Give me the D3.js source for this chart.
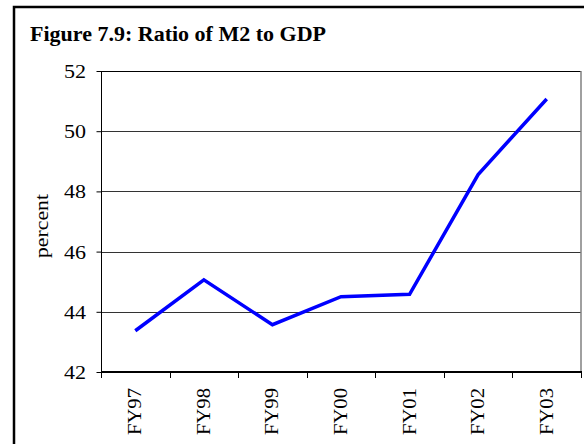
<!DOCTYPE html>
<html>
<head>
<meta charset="utf-8">
<script src="https://cdn.jsdelivr.net/npm/d3@7/dist/d3.min.js"></script>
<style>
  body { margin: 0; background: #fff; }
  text { font-family: "Liberation Serif", "Times New Roman", serif; fill: #000; }
</style>
</head>
<body>
<script>
// data
var years = ['FY97', 'FY98', 'FY99', 'FY00', 'FY01', 'FY02', 'FY03'];
var ratio = [43.37, 45.06, 43.57, 44.5, 44.58, 48.56, 51.07];
var yTicks = [42, 44, 46, 48, 50, 52];

var W = 584, H = 444;
// plot box (note: "top" is reserved on window, so use px* names)
var pxLeft = 101, pxRight = 581, pxTop = 71, pxBottom = 372;

var svg = d3.select('body').append('svg')
    .attr('width', W)
    .attr('height', H);

// outer frame (runs off the right and bottom edges)
svg.append('rect')
    .attr('x', 14).attr('y', 7)
    .attr('width', 620).attr('height', 520)
    .attr('fill', 'none')
    .attr('stroke', '#000')
    .attr('stroke-width', 2.5);

svg.append('text')
    .attr('x', 30).attr('y', 40.5)
    .attr('font-size', 20)
    .attr('font-weight', 'bold')
    .attr('textLength', 296)
    .attr('lengthAdjust', 'spacingAndGlyphs')
    .text('Figure 7.9: Ratio of M2 to GDP');

var x = d3.scaleBand().domain(years).range([pxLeft, pxRight]);
var y = d3.scaleLinear().domain([42, 52]).range([pxBottom, pxTop]);

// gridlines
svg.append('g').selectAll('line')
    .data(yTicks.filter(function(d) { return d > 42; }))
  .enter().append('line')
    .attr('x1', pxLeft).attr('x2', pxRight)
    .attr('y1', function(d) { return Math.round(y(d)) + 0.5; })
    .attr('y2', function(d) { return Math.round(y(d)) + 0.5; })
    .attr('stroke', function(d) { return d == 52 ? '#000' : '#333'; })
    .attr('stroke-width', 1);

// right edge of plot area
svg.append('line')
    .attr('x1', pxRight).attr('x2', pxRight)
    .attr('y1', pxTop).attr('y2', pxBottom)
    .attr('stroke', '#808080')
    .attr('stroke-width', 1.5);

// y axis
var yAxis = svg.append('g')
    .attr('transform', 'translate(' + (pxLeft + 0.5) + ',0)')
    .call(d3.axisLeft(y).tickValues(yTicks).tickSize(5).tickPadding(10).tickFormat(d3.format('d')));
yAxis.select('.domain').attr('stroke', '#000').attr('d', 'M0,' + pxTop + 'V' + pxBottom);
yAxis.selectAll('.tick line').attr('stroke', '#000');
yAxis.selectAll('text')
    .attr('font-size', 18)
    .attr('font-family', '"Liberation Serif", serif')
    .attr('dy', '0.36em')
    .attr('textLength', 22)
    .attr('lengthAdjust', 'spacingAndGlyphs')
    .attr('x', -15.5);

// x axis line and ticks at the category boundaries
svg.append('line')
    .attr('x1', pxLeft).attr('x2', pxRight + 1)
    .attr('y1', pxBottom).attr('y2', pxBottom)
    .attr('stroke', '#000').attr('stroke-width', 2);

var bounds = years.map(function(d) { return x(d); }).concat([pxRight]);
svg.append('g').selectAll('line')
    .data(bounds)
  .enter().append('line')
    .attr('x1', function(d) { return Math.round(d) + 0.5; })
    .attr('x2', function(d) { return Math.round(d) + 0.5; })
    .attr('y1', pxBottom).attr('y2', pxBottom + 6)
    .attr('stroke', '#000');

svg.append('g').selectAll('text')
    .data(years)
  .enter().append('text')
    .attr('transform', function(d) {
      return 'translate(' + (x(d) + x.bandwidth() / 2 + 6) + ',' + (pxBottom + 16) + ') rotate(-90)';
    })
    .attr('text-anchor', 'end')
    .attr('font-size', 19)
    .attr('textLength', 47)
    .attr('lengthAdjust', 'spacingAndGlyphs')
    .text(function(d) { return d; });

// y title
svg.append('text')
    .attr('transform', 'translate(48,226) rotate(-90)')
    .attr('text-anchor', 'middle')
    .attr('font-size', 18)
    .attr('textLength', 64)
    .attr('lengthAdjust', 'spacingAndGlyphs')
    .text('percent');

// the series
var line = d3.line()
    .x(function(d, i) { return x(years[i]) + x.bandwidth() / 2; })
    .y(function(d) { return y(d); });

svg.append('path')
    .datum(ratio)
    .attr('d', line)
    .attr('fill', 'none')
    .attr('stroke', '#0000ff')
    .attr('stroke-width', 3.5)
    .attr('stroke-linejoin', 'miter');
</script>
</body>
</html>
